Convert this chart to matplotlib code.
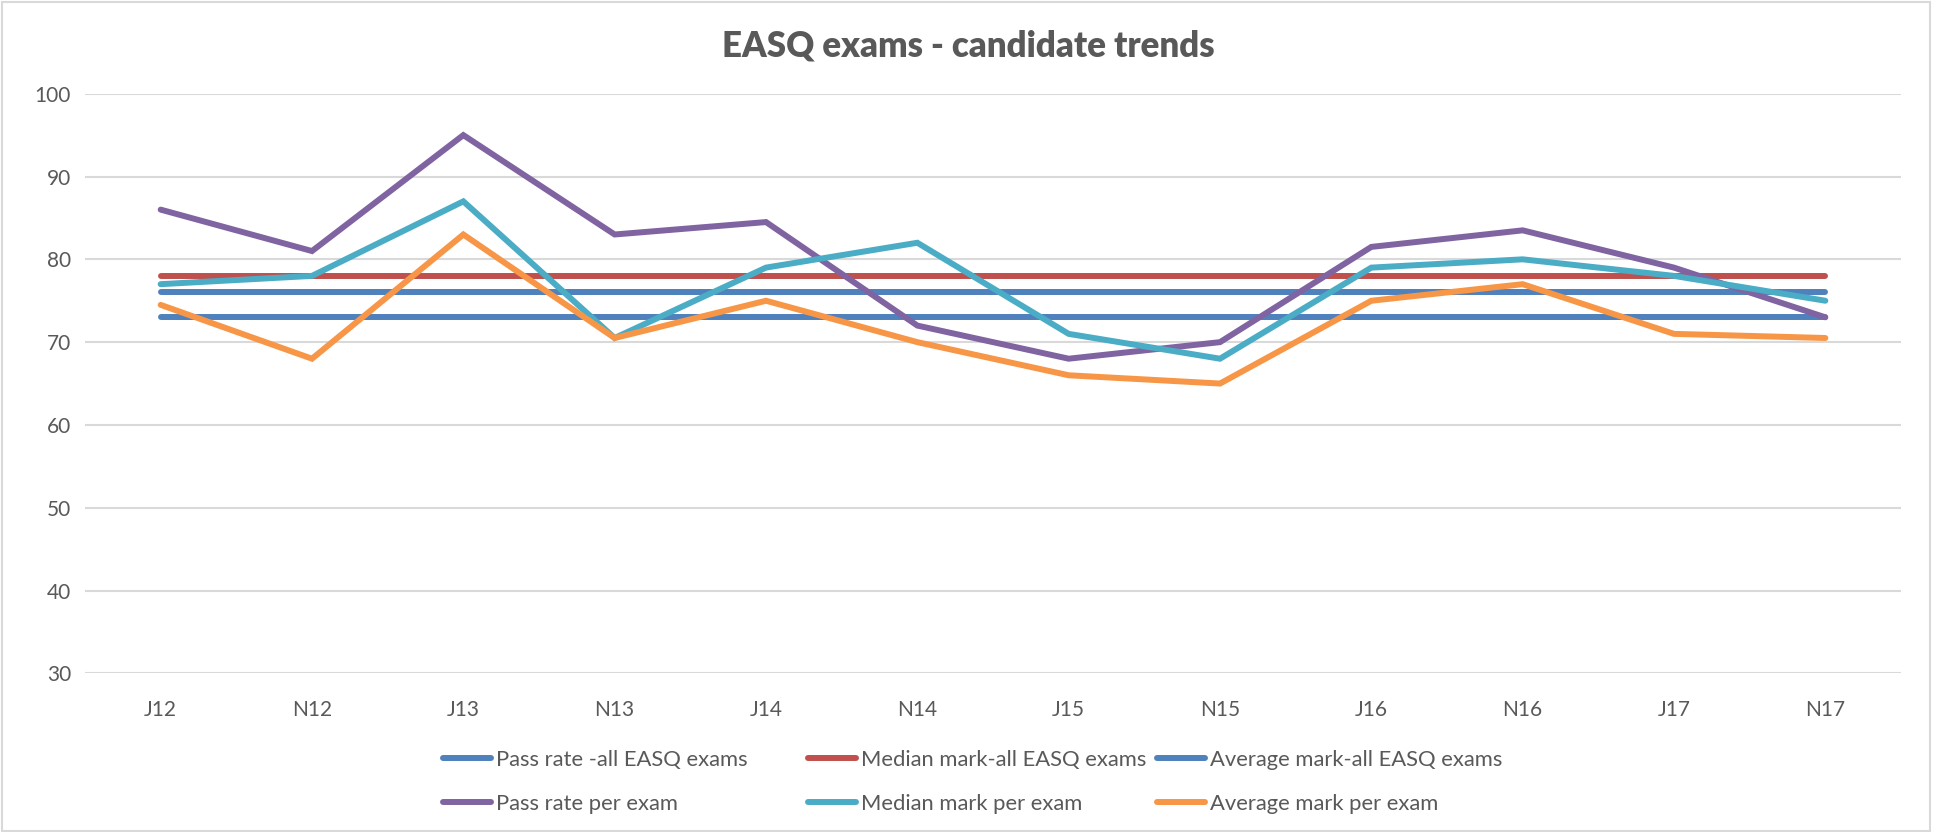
import matplotlib
matplotlib.use("Agg")
import matplotlib.pyplot as plt
from matplotlib.lines import Line2D
from matplotlib.patches import Rectangle

categories = ["J12", "N12", "J13", "N13", "J14", "N14", "J15", "N15", "J16", "N16", "J17", "N17"]
pass_rate_all = [76] * 12
median_mark_all = [78] * 12
average_mark_all = [73] * 12
pass_rate_exam = [86, 81, 95, 83, 84.5, 72, 68, 70, 81.5, 83.5, 79, 73]
median_mark_exam = [77, 78, 87, 70.5, 79, 82, 71, 68, 79, 80, 78, 75]
average_mark_exam = [74.5, 68, 83, 70.5, 75, 70, 66, 65, 75, 77, 71, 70.5]
y_ticks = [30, 40, 50, 60, 70, 80, 90, 100]

series = [
    ("Pass rate -all EASQ exams", pass_rate_all, "#4F81BD"),
    ("Median mark-all EASQ exams", median_mark_all, "#C0504D"),
    ("Average mark-all EASQ exams", average_mark_all, "#4F81BD"),
    ("Pass rate per exam", pass_rate_exam, "#8064A2"),
    ("Median mark per exam", median_mark_exam, "#4BACC6"),
    ("Average mark per exam", average_mark_exam, "#F79646"),
]

plt.rcParams['font.family'] = ['Lato', 'DejaVu Sans']
text_color = "#595959"

W, H = 1934, 832
fig = plt.figure(figsize=(W / 100, H / 100), dpi=100)
ax = fig.add_axes([85 / W, 1 - 673.4 / H, (1901 - 85) / W, (673.4 - 93.7) / H])

x = list(range(len(categories)))
handles = []
for i, (label, vals, color) in enumerate(series):
    ln, = ax.plot(x, vals, color=color, lw=4.3, solid_capstyle='round',
                  solid_joinstyle='miter', label=label, zorder=3 + i)
    handles.append(ln)

ax.set_xlim(-0.5, len(categories) - 0.5)
ax.set_ylim(30, 100)
ax.set_yticks(y_ticks)
ax.set_xticks(x)
ax.set_xticklabels(categories)
ax.grid(axis='y', color='#D9D9D9', lw=1.5, zorder=0)
ax.set_axisbelow(True)
for s in ax.spines.values():
    s.set_visible(False)
ax.tick_params(axis='both', length=0, labelsize=15, colors=text_color)
ax.tick_params(axis='x', pad=19)
ax.tick_params(axis='y', pad=10)

fig.text(968 / W, 1 - 46 / H, "EASQ exams - candidate trends", ha='center', va='center',
         fontsize=25, fontweight='heavy', color=text_color)

col_x = [443, 808, 1157]
for c in range(3):
    hs = [handles[c], handles[c + 3]]
    leg = fig.legend(handles=hs, loc='upper left',
                     bbox_to_anchor=(col_x[c] / W, 1 - 750 / H),
                     frameon=False, fontsize=15.8, handlelength=2.2, handletextpad=0.2,
                     labelspacing=1.08, borderaxespad=0, borderpad=0)
    for t in leg.get_texts():
        t.set_color(text_color)

fig.add_artist(Rectangle((0.001, 0.001), 0.997, 0.997, transform=fig.transFigure,
                         fill=False, edgecolor='#D9D9D9', lw=1.5))

fig.savefig("out.png", dpi=100, facecolor='white')
